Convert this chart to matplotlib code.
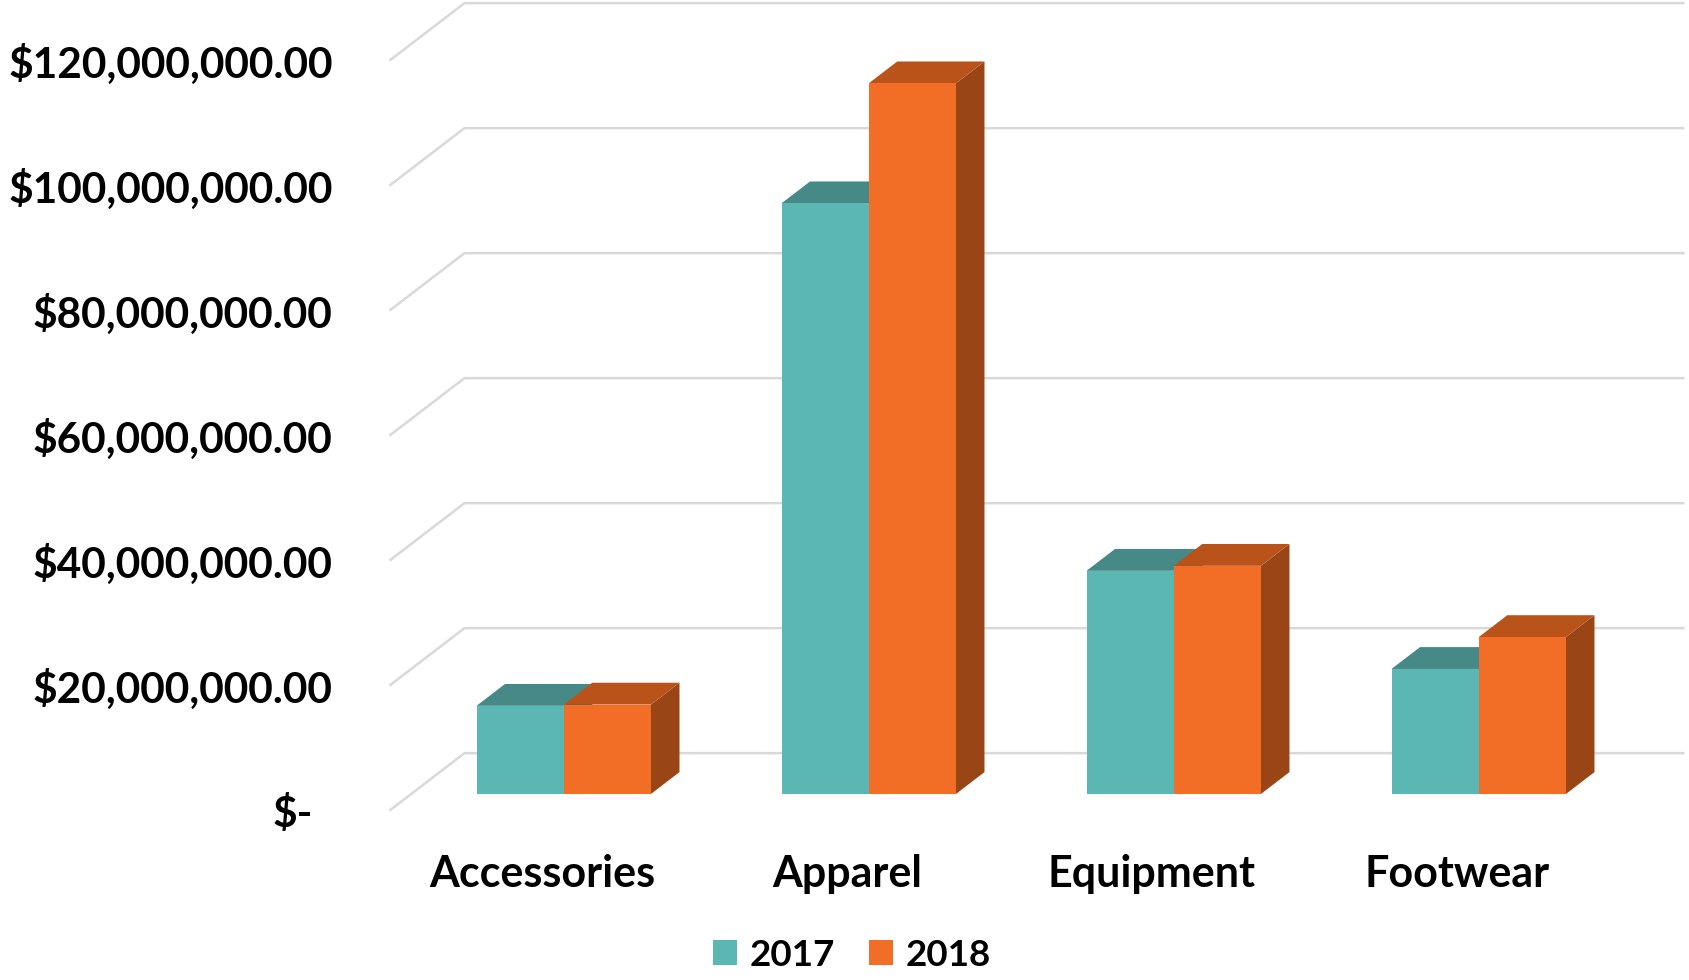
import matplotlib
matplotlib.use("Agg")
import matplotlib.pyplot as plt
from matplotlib.patches import Polygon, Patch

categories = ["Accessories", "Apparel", "Equipment", "Footwear"]
series = ["2017", "2018"]
sales_2017 = [14.1e6, 94.5e6, 35.7e6, 20.0e6]
sales_2018 = [14.3e6, 113.7e6, 36.5e6, 25.1e6]
tick_values = [0, 20e6, 40e6, 60e6, 80e6, 100e6, 120e6]
tick_labels = ["$-", "$20,000,000.00", "$40,000,000.00", "$60,000,000.00",
               "$80,000,000.00", "$100,000,000.00", "$120,000,000.00"]

front_colors = ["#5BB7B3", "#F26E26"]
top_colors = ["#468986", "#B9531A"]
side_colors = ["#3B7371", "#9A4516"]

plt.rcParams["font.family"] = ["Lato", "DejaVu Sans"]
plt.rcParams["font.weight"] = "bold"

# oblique depth of the floor, in data units
DX = 0.246
DY = 9.2e6
F0, F1 = 0.29, 0.67   # bar front/back as fraction of the depth
BAR_W = 0.286


def shift(x, y, f):
    return (x + f * DX, y + f * DY)


def draw_bar(ax, x0, value, i):
    x1 = x0 + BAR_W
    fl = [shift(x0, 0, F0), shift(x1, 0, F0), shift(x1, value, F0), shift(x0, value, F0)]
    top = [shift(x0, value, F0), shift(x1, value, F0), shift(x1, value, F1), shift(x0, value, F1)]
    side = [shift(x1, 0, F0), shift(x1, 0, F1), shift(x1, value, F1), shift(x1, value, F0)]
    ax.add_patch(Polygon(side, closed=True, facecolor=side_colors[i], edgecolor="none", zorder=3))
    ax.add_patch(Polygon(top, closed=True, facecolor=top_colors[i], edgecolor="none", zorder=3))
    ax.add_patch(Polygon(fl, closed=True, facecolor=front_colors[i], edgecolor="none", zorder=4))


fig = plt.figure(figsize=(16.9, 9.8), dpi=100)
ax = fig.add_axes([0, 0, 1, 1])
ax.set_xlim(-1.777, 3.764)
ax.set_ylim(-27.1e6, 129.7e6)
ax.axis("off")

n = len(categories)
left = -0.5
right = n - 0.5
for v in tick_values:
    ax.plot([left, left + DX, right + DX], [v, v + DY, v + DY],
            color="#D9D9D9", lw=1.8, zorder=1, solid_capstyle="butt")
for v, lab in zip(tick_values, tick_labels):
    # accounting format: the zero label "$-" keeps trailing padding
    xpos = -0.752 if v == 0 else -0.686
    ax.text(xpos, v - 0.6e6, lab, ha="right", va="center",
            fontsize=30.5, fontweight="bold", color="black")

for k in range(n):
    draw_bar(ax, k - BAR_W, sales_2017[k], 0)
    draw_bar(ax, k, sales_2018[k], 1)
    ax.text(k, -10.2e6, categories[k], ha="center", va="center",
            fontsize=31, fontweight="bold", color="black")

handles = [Patch(facecolor=c, edgecolor="none", label=s) for c, s in zip(front_colors, series)]
leg = ax.legend(handles=handles, loc="center", bbox_to_anchor=(0.504, 0.0255),
                ncol=2, frameon=False, fontsize=26.5, handlelength=0.67,
                handleheight=0.67, handletextpad=0.33, columnspacing=0.92,
                borderpad=0, borderaxespad=0)
for t in leg.get_texts():
    t.set_fontweight("bold")

fig.savefig("out.png", dpi=100)
